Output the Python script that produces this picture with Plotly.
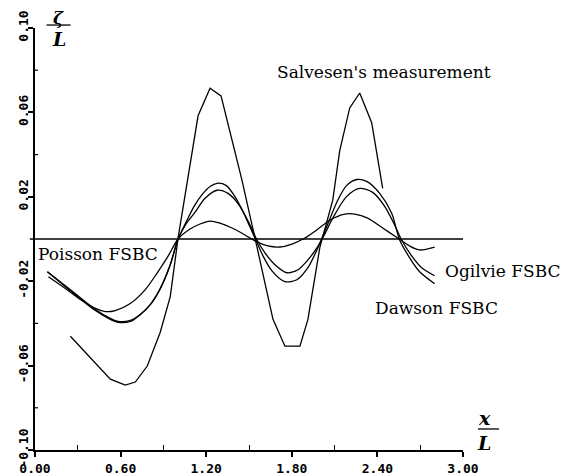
import plotly.graph_objects as go

# ---- data ----
poisson_x = [0.094, 0.213, 0.318, 0.423, 0.493, 0.563, 0.668, 0.773, 0.857, 0.934,
             1.003, 1.087, 1.157, 1.227, 1.297, 1.381, 1.472, 1.542, 1.633, 1.717,
             1.801, 1.892, 1.983, 2.066, 2.171, 2.241, 2.332, 2.437, 2.542, 2.626,
             2.696, 2.801]
poisson_y = [-0.0179, -0.0235, -0.0287, -0.0329, -0.0344, -0.0339, -0.0306, -0.0240, -0.0160, -0.0080,
             0.0000, 0.0047, 0.0071, 0.0085, 0.0075, 0.0052, 0.0019, -0.0009, -0.0033, -0.0038,
             -0.0024, 0.0005, 0.0047, 0.0089, 0.0118, 0.0118, 0.0099, 0.0052, 0.0005, -0.0033,
             -0.0052, -0.0038]

dawson_x = [0.087, 0.248, 0.423, 0.528, 0.584, 0.668, 0.738, 0.808, 0.878, 0.948,
            1.003, 1.059, 1.115, 1.178, 1.227, 1.276, 1.339, 1.409, 1.479, 1.542,
            1.598, 1.661, 1.752, 1.836, 1.913, 1.976, 2.017, 2.066, 2.122, 2.185,
            2.255, 2.325, 2.416, 2.500, 2.556, 2.626, 2.696, 2.801]
dawson_y = [-0.0155, -0.0245, -0.0339, -0.0381, -0.0395, -0.0391, -0.0358, -0.0311, -0.0235, -0.0122,
            0.0000, 0.0080, 0.0155, 0.0216, 0.0249, 0.0264, 0.0254, 0.0193, 0.0099, 0.0005,
            -0.0080, -0.0151, -0.0202, -0.0193, -0.0136, -0.0052, 0.0014, 0.0094, 0.0184, 0.0254,
            0.0282, 0.0273, 0.0216, 0.0122, -0.0005, -0.0089, -0.0155, -0.0212]

ogilvie_x = [0.087, 0.248, 0.423, 0.528, 0.584, 0.668, 0.738, 0.808, 0.878, 0.948,
             1.003, 1.059, 1.122, 1.192, 1.276, 1.353, 1.437, 1.507, 1.556, 1.612,
             1.682, 1.766, 1.843, 1.913, 1.976, 2.024, 2.087, 2.185, 2.276, 2.367,
             2.451, 2.521, 2.570, 2.640, 2.710, 2.801]
ogilvie_y = [-0.0155, -0.0240, -0.0334, -0.0376, -0.0391, -0.0386, -0.0358, -0.0311, -0.0235, -0.0122,
             0.0000, 0.0071, 0.0127, 0.0193, 0.0231, 0.0216, 0.0155, 0.0066, -0.0005, -0.0066,
             -0.0122, -0.0160, -0.0146, -0.0099, -0.0042, 0.0014, 0.0099, 0.0202, 0.0240, 0.0221,
             0.0155, 0.0066, -0.0005, -0.0080, -0.0136, -0.0174]

salvesen_x = [0.248, 0.388, 0.528, 0.633, 0.703, 0.787, 0.878, 0.948, 1.003, 1.143,
              1.227, 1.304, 1.367, 1.451, 1.556, 1.668, 1.752, 1.857, 1.913, 1.997,
              2.087, 2.136, 2.206, 2.276, 2.360, 2.437]
salvesen_y = [-0.0461, -0.0560, -0.0664, -0.0692, -0.0678, -0.0602, -0.0442, -0.0273, 0.0005, 0.0584,
              0.0715, 0.0678, 0.0504, 0.0278, -0.0038, -0.0381, -0.0508, -0.0508, -0.0381, -0.0038,
              0.0184, 0.0419, 0.0621, 0.0692, 0.0551, 0.0240]

x_tickvals = [0.0, 0.6, 1.2, 1.8, 2.4, 3.0]
x_ticktext = ["0.00", "0.60", "1.20", "1.80", "2.40", "3.00"]
x_minor = [0.3, 0.9, 1.5, 2.1, 2.7]
y_tickvals = [-0.10, -0.06, -0.02, 0.02, 0.06, 0.10]
y_ticktext = ["-0.10", "-0.06", "-0.02", "0.02", "0.06", "0.10"]
y_minor = [-0.08, -0.04, 0.04, 0.08]

X_RANGE = [0.0, 3.0]
Y_RANGE = [-0.10, 0.10]

fig = go.Figure()
for xs, ys, shape in [(poisson_x, poisson_y, "spline"),
                      (dawson_x, dawson_y, "spline"),
                      (ogilvie_x, ogilvie_y, "spline"),
                      (salvesen_x, salvesen_y, "linear")]:
    fig.add_trace(go.Scatter(x=xs, y=ys, mode="lines", cliponaxis=False,
                             line=dict(color="black", width=1.3, shape=shape, smoothing=0.8),
                             showlegend=False, hoverinfo="skip"))

tick_font = dict(family="DejaVu Sans Mono", size=13, color="black", weight="bold")
fig.update_xaxes(range=X_RANGE, automargin=False,
                 showgrid=False, zeroline=False, showline=True, linecolor="black", linewidth=2,
                 tickmode="array", tickvals=x_tickvals, ticktext=x_ticktext,
                 ticks="outside", ticklen=5, tickwidth=1.5, tickcolor="black",
                 tickfont=tick_font,
                 minor=dict(tickmode="array", tickvals=x_minor, ticks="inside",
                            ticklen=5, tickwidth=1.2, tickcolor="black"))
# y labels: the major ticks are hidden so the rotated labels sit close to the axis;
# the outward tick marks are drawn as "minor" ticks at the labelled values
fig.update_yaxes(range=Y_RANGE, automargin=False,
                 showgrid=False, zeroline=False, showline=True, linecolor="black", linewidth=2,
                 tickmode="array", tickvals=y_tickvals, ticktext=y_ticktext,
                 ticks="", tickangle=-90, tickfont=tick_font,
                 minor=dict(tickmode="array", tickvals=y_tickvals, ticks="outside",
                            ticklen=5, tickwidth=1.5, tickcolor="black"))

shapes = [
    # zero reference line (starts a little left of the y axis)
    dict(type="line", xref="paper", yref="y", x0=-0.012, x1=1.0, y0=0, y1=0,
         line=dict(color="black", width=1.5)),
    # fraction bars
    dict(type="line", xref="paper", yref="paper", x0=0.027, x1=0.083, y0=1.007, y1=1.007,
         line=dict(color="black", width=1.3)),
    dict(type="line", xref="paper", yref="paper", x0=1.035, x1=1.084, y0=0.0498, y1=0.0498,
         line=dict(color="black", width=1.3)),
]
# small inward minor ticks on the y axis
for v in y_minor:
    shapes.append(dict(type="line", xref="paper", yref="y", x0=0, x1=0.007, y0=v, y1=v,
                       line=dict(color="black", width=1.2)))

serif = dict(family="DejaVu Serif", size=17, color="black")
ital = dict(family="DejaVu Serif", size=19, color="black", style="italic", weight="bold")
annotations = [
    dict(text="Salvesen's measurement", x=1.682, y=0.079, xanchor="left", yanchor="middle",
         xref="x", yref="y", showarrow=False, font=serif),
    dict(text="Poisson FSBC", x=0.0, y=-0.0071, xanchor="left", yanchor="middle",
         xref="x", yref="y", showarrow=False, font=serif, bgcolor="white", borderpad=2),
    dict(text="Ogilvie FSBC", x=2.857, y=-0.0151, xanchor="left", yanchor="middle",
         xref="x", yref="y", showarrow=False, font=serif),
    dict(text="Dawson FSBC", x=2.367, y=-0.0326, xanchor="left", yanchor="middle",
         xref="x", yref="y", showarrow=False, font=serif),
    dict(text="ζ", x=0.055, y=1.024, xanchor="center", yanchor="middle",
         xref="paper", yref="paper", showarrow=False, borderpad=0,
         font=dict(family="DejaVu Serif", size=17, color="black", style="italic", weight="bold")),
    dict(text="L", x=0.055, y=0.974, xanchor="center", yanchor="middle",
         xref="paper", yref="paper", showarrow=False, font=ital),
    dict(text="x", x=1.05, y=0.076, xanchor="center", yanchor="middle",
         xref="paper", yref="paper", showarrow=False, font=ital),
    dict(text="L", x=1.05, y=0.017, xanchor="center", yanchor="middle",
         xref="paper", yref="paper", showarrow=False, font=ital),
]

# the page places the figure 8 px in from the top-left corner, so the figure is
# made 8 px smaller in each direction and the margins are shifted accordingly
fig.update_layout(width=569, height=468, margin=dict(l=26.5, r=113.5, t=20, b=26),
                  paper_bgcolor="white", plot_bgcolor="white",
                  shapes=shapes, annotations=annotations, showlegend=False)
fig.write_html("out.html")
